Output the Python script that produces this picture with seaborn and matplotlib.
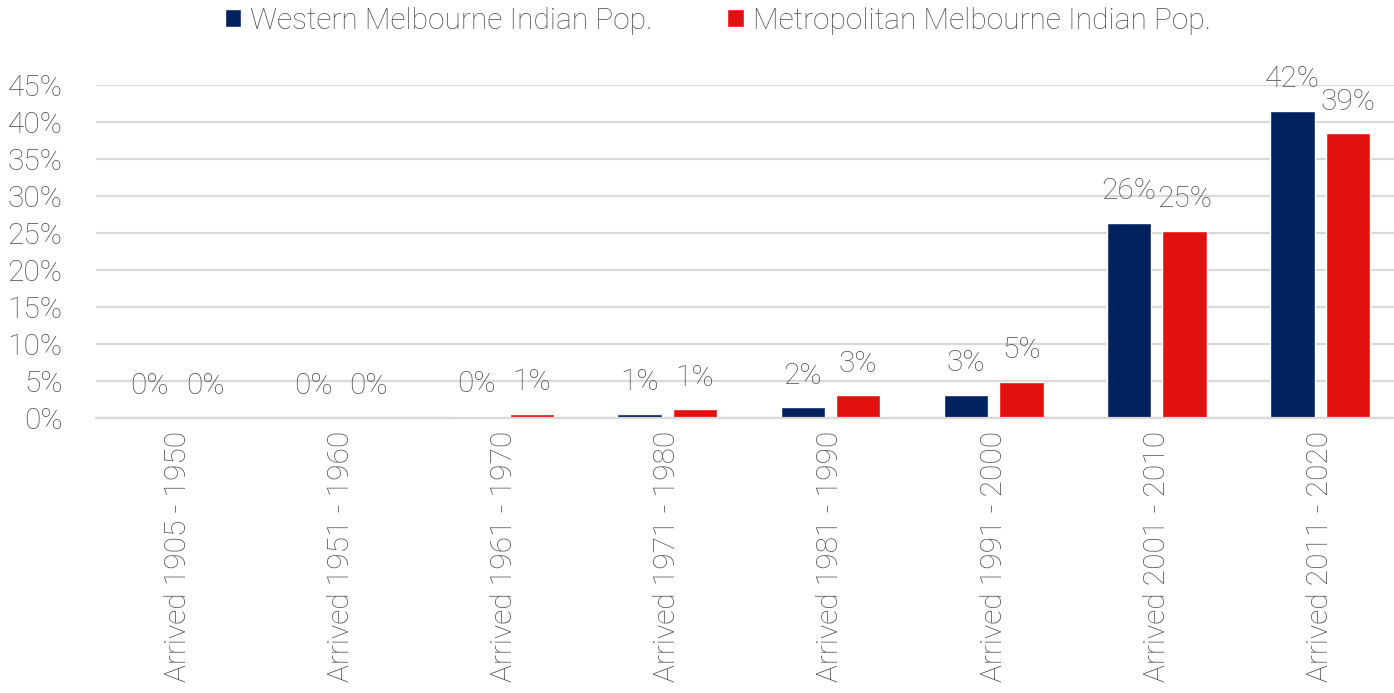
import matplotlib
matplotlib.use("Agg")
import matplotlib.pyplot as plt
import seaborn as sns
import pandas as pd
from matplotlib.patches import Patch
from matplotlib.ticker import PercentFormatter

categories = ["Arrived 1905 - 1950", "Arrived 1951 - 1960", "Arrived 1961 - 1970",
              "Arrived 1971 - 1980", "Arrived 1981 - 1990", "Arrived 1991 - 2000",
              "Arrived 2001 - 2010", "Arrived 2011 - 2020"]
western = [0.02, 0.03, 0.32, 0.55, 1.43, 3.15, 26.35, 41.5]
metro = [0.05, 0.05, 0.55, 1.18, 3.06, 4.86, 25.27, 38.5]
series_names = ["Western Melbourne Indian Pop.", "Metropolitan Melbourne Indian Pop."]
colors = ["#00235F", "#E31010"]
labels_w = ["0%", "0%", "0%", "1%", "2%", "3%", "26%", "42%"]
labels_m = ["0%", "0%", "1%", "1%", "3%", "5%", "25%", "39%"]

sns.set_theme(style="white")
plt.rcParams['font.family'] = ['Roboto', 'DejaVu Sans']
plt.rcParams['font.weight'] = 'light'
txt = "#505050"
fs = 21.5

df = pd.DataFrame({
    "cat": categories * 2,
    "val": western + metro,
    "series": [series_names[0]] * len(categories) + [series_names[1]] * len(categories),
})

fig = plt.figure(figsize=(13.94, 6.93), dpi=100)
ax = fig.add_axes([0.0689, 0.3968, 0.9366, 0.4805])
sns.barplot(data=df, x="cat", y="val", hue="series", palette=colors, width=0.68, gap=0.2,
            ax=ax, legend=False, saturation=1)

ax.set_ylim(0, 45)
ax.set_yticks(range(0, 50, 5))
ax.yaxis.set_major_formatter(PercentFormatter(decimals=0))
ax.grid(axis="y", color="#D9D9D9", linewidth=1.6)
ax.set_axisbelow(True)
for s in ["top", "right", "left"]:
    ax.spines[s].set_visible(False)
ax.spines["bottom"].set_color("#D9D9D9")
ax.spines["bottom"].set_linewidth(1.6)
ax.set_xlabel("")
ax.set_ylabel("")
ax.tick_params(axis="y", length=0, pad=24, labelsize=fs, labelcolor=txt)
ax.tick_params(axis="x", length=0, pad=9, labelsize=fs, labelcolor=txt)
plt.setp(ax.get_xticklabels(), rotation=90, fontweight="light")
plt.setp(ax.get_yticklabels(), fontweight="light")
ax.set_xlim(-0.5, len(categories) - 0.5)

for cont, labs in zip(ax.containers, [labels_w, labels_m]):
    for bar, lab in zip(cont, labs):
        ax.annotate(lab, (bar.get_x() + bar.get_width() / 2, bar.get_height()),
                    xytext=(0, 17), textcoords="offset points", ha="center", va="baseline",
                    fontsize=fs, color=txt, fontweight="light")

handles = [Patch(facecolor=c, label=n) for c, n in zip(colors, series_names)]
fig.legend(handles=handles, loc="center", bbox_to_anchor=(0.515, 0.97), ncol=2,
           frameon=False, fontsize=fs, handlelength=0.55, handleheight=0.55,
           handletextpad=0.3, columnspacing=2.5, labelcolor=txt,
           borderpad=0, borderaxespad=0)

fig.savefig("out.png", dpi=100)
